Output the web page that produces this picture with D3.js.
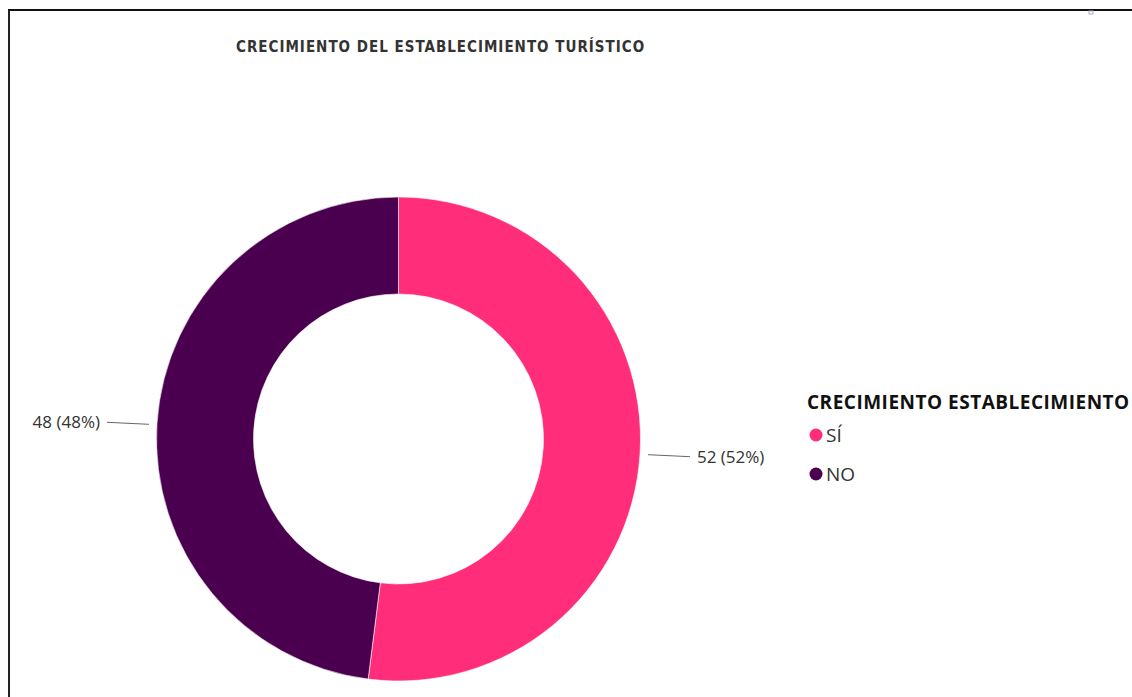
<!DOCTYPE html>
<html>
<head>
<meta charset="utf-8">
<script src="https://cdn.jsdelivr.net/npm/d3@7"></script>
<style>
  html, body { margin: 0; padding: 0; background: #fff; }
  svg { display: block; }
</style>
</head>
<body>
<svg id="chart" width="1132" height="697"></svg>
<script>
// Chart data
const categories = ["SÍ", "NO"];
const values = [52, 48];
const colors = ["#FF2D7A", "#4B004F"];
const chartTitle = "CRECIMIENTO DEL ESTABLECIMIENTO TURÍSTICO";
const legendTitle = "CRECIMIENTO ESTABLECIMIENTO";

const svg = d3.select("#chart");
const W = 1132, H = 697;

// Frame around the visual
svg.append("line").attr("x1", 8).attr("x2", W).attr("y1", 10).attr("y2", 10)
  .attr("stroke", "#111").attr("stroke-width", 2);
svg.append("line").attr("x1", 9).attr("x2", 9).attr("y1", 10).attr("y2", H)
  .attr("stroke", "#222").attr("stroke-width", 2);
svg.append("rect").attr("x", 1089).attr("y", 11).attr("width", 4).attr("height", 3)
  .attr("fill", "none").attr("stroke", "#b9a9c9").attr("stroke-width", 1);

// Title
svg.append("text")
  .attr("x", 236).attr("y", 51.5)
  .attr("font-family", "'DejaVu Sans Condensed', 'DejaVu Sans', sans-serif")
  .attr("font-weight", "bold")
  .attr("font-size", 15)
  .attr("letter-spacing", 1.0)
  .attr("fill", "#333")
  .text(chartTitle);

// Donut
const cx = 398.5, cy = 439;
const outerR = 242, innerR = 145;
const total = d3.sum(values);
const data = categories.map((c, i) => ({ cat: c, value: values[i], color: colors[i] }));

const pie = d3.pie().value(d => d.value).sort(null);
const arc = d3.arc().innerRadius(innerR).outerRadius(outerR);
const arcs = pie(data);

const g = svg.append("g").attr("transform", `translate(${cx},${cy})`);
g.selectAll("path.slice").data(arcs).enter().append("path")
  .attr("class", "slice")
  .attr("d", arc)
  .attr("fill", d => d.data.color)
  .attr("stroke", "#fff")
  .attr("stroke-width", 0.6);

// Data labels with leader lines
const fmt = d => `${d.data.value} (${Math.round(d.data.value / total * 100)}%)`;
arcs.forEach(d => {
  const mid = (d.startAngle + d.endAngle) / 2;
  const right = Math.sin(mid) > 0;
  const p0x = Math.sin(mid) * (outerR + 8);
  const p0y = -Math.cos(mid) * (outerR + 8);
  const p1x = p0x + (right ? 42 : -42);
  const p1y = p0y + (right ? 2 : -1);
  g.append("path")
    .attr("d", `M${p0x},${p0y + (right ? 0 : 1)}L${p1x},${p1y}`)
    .attr("stroke", "#666").attr("stroke-width", 1).attr("fill", "none");
  g.append("text")
    .attr("x", p1x + (right ? 7 : -7))
    .attr("y", p1y + 6)
    .attr("text-anchor", right ? "start" : "end")
    .attr("font-family", "'Open Sans', 'Noto Sans', sans-serif")
    .attr("font-size", 17)
    .attr("fill", "#333")
    .text(fmt(d));
});

// Legend
const legend = svg.append("g").attr("transform", "translate(807,0)");
legend.append("text")
  .attr("x", 0).attr("y", 409)
  .attr("font-family", "'Open Sans', 'Noto Sans', sans-serif")
  .attr("font-weight", "bold")
  .attr("font-size", 19)
  .attr("letter-spacing", 0.5)
  .attr("fill", "#111")
  .text(legendTitle);

const ly = d3.scalePoint().domain(categories).range([435, 474]);
const items = legend.selectAll("g.item").data(data).enter().append("g")
  .attr("class", "item")
  .attr("transform", d => `translate(0,${ly(d.cat)})`);
items.append("circle").attr("cx", 9).attr("cy", 0).attr("r", 6.5).attr("fill", d => d.color);
items.append("text")
  .attr("x", 19).attr("y", 7)
  .attr("font-family", "'Open Sans', 'Noto Sans', sans-serif")
  .attr("font-size", 19)
  .attr("fill", "#333")
  .text(d => d.cat);
</script>
</body>
</html>
